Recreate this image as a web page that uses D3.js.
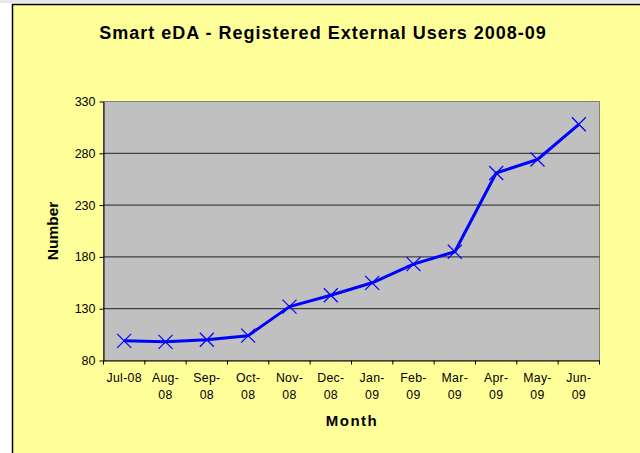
<!DOCTYPE html>
<html>
<head>
<meta charset="UTF-8">
<script src="https://d3js.org/d3.v7.min.js"></script>
<style>
  body { margin: 0; background: #fff; }
  svg text { font-family: "Liberation Sans", Arial, sans-serif; }
</style>
</head>
<body>
<svg id="chart" width="640" height="453"></svg>
<script>
const months = ["Jul-08", "Aug-08", "Sep-08", "Oct-08", "Nov-08", "Dec-08",
                "Jan-09", "Feb-09", "Mar-09", "Apr-09", "May-09", "Jun-09"];
const users = [99, 98, 100, 104, 132, 143, 155, 173, 185, 261, 274, 308];
const yTicks = [80, 130, 180, 230, 280, 330];

const svg = d3.select("#chart");

// chart area frame
svg.append("rect").attr("x", 0).attr("y", 0).attr("width", 640).attr("height", 3).attr("fill", "#e8e8e8");
svg.append("rect")
   .attr("x", 12.5).attr("y", 4.5).attr("width", 640).attr("height", 460)
   .attr("fill", "#ffff99").attr("stroke", "#000").attr("stroke-width", 1.5);

const pLeft = 103.5, pRight = 599.5, pTop = 101.5, pBottom = 360.5;

const x = d3.scaleBand().domain(months).range([pLeft, pRight]);
const y = d3.scaleLinear().domain([80, 330]).range([pBottom, pTop]);

// plot area
svg.append("rect")
   .attr("x", pLeft).attr("y", pTop).attr("width", pRight - pLeft).attr("height", pBottom - pTop)
   .attr("fill", "#c0c0c0").attr("stroke", "#808080").attr("stroke-width", 1);

// grid lines
svg.append("g").selectAll("line")
   .data(yTicks.slice(1, -1))
   .join("line")
   .attr("x1", pLeft).attr("x2", pRight)
   .attr("y1", d => y(d)).attr("y2", d => y(d))
   .attr("stroke", "#222").attr("stroke-width", 1);

// y axis
const yAxis = svg.append("g")
   .attr("transform", `translate(${pLeft},0)`)
   .call(d3.axisLeft(y).tickValues(yTicks).tickSize(4).tickSizeOuter(0));
yAxis.select(".domain").attr("stroke", "#000");
yAxis.selectAll("text").attr("font-size", 12.5).attr("fill", "#000").attr("dx", -1);

// x axis
const xAxis = svg.append("g")
   .attr("transform", `translate(0,${pBottom})`)
   .call(d3.axisBottom(x).tickSize(0).tickSizeOuter(0));
xAxis.select(".domain").attr("stroke", "#000");
xAxis.selectAll(".tick line").remove();
xAxis.selectAll("text").remove();
// category boundary ticks
svg.append("g").selectAll("line")
   .data(d3.range(months.length + 1))
   .join("line")
   .attr("x1", i => pLeft + i * x.step()).attr("x2", i => pLeft + i * x.step())
   .attr("y1", pBottom).attr("y2", pBottom + 4)
   .attr("stroke", "#000");

// x tick labels in two lines
const lbl = svg.append("g").selectAll("text")
   .data(months)
   .join("text")
   .attr("font-size", 12.3)
   .attr("letter-spacing", 0.3)
   .attr("text-anchor", "middle")
   .attr("fill", "#000");
lbl.each(function(d, i) {
  const t = d3.select(this);
  const cx = x(d) + x.bandwidth() / 2;
  const parts = d.split("-");
  if (i === 0) {
    t.append("tspan").attr("x", cx).attr("y", pBottom + 21).text(d);
  } else {
    t.append("tspan").attr("x", cx).attr("y", pBottom + 21).text(parts[0] + "-");
    t.append("tspan").attr("x", cx).attr("y", pBottom + 38).text(parts[1]);
  }
});

// line
const line = d3.line()
   .x((d, i) => x(months[i]) + x.bandwidth() / 2)
   .y(d => y(d));
svg.append("path")
   .datum(users)
   .attr("d", line)
   .attr("fill", "none")
   .attr("stroke", "#0000ff")
   .attr("stroke-width", 3)
   .attr("stroke-linejoin", "round");

// x markers
const m = 7;
svg.append("g").selectAll("path")
   .data(users)
   .join("path")
   .attr("d", (d, i) => {
     const cx = x(months[i]) + x.bandwidth() / 2, cy = y(d);
     return `M${cx - m},${cy - m}L${cx + m},${cy + m}M${cx - m},${cy + m}L${cx + m},${cy - m}`;
   })
   .attr("stroke", "#0000ff").attr("stroke-width", 1.2).attr("fill", "none");

// titles
svg.append("text")
   .attr("x", 323).attr("y", 39)
   .attr("text-anchor", "middle").attr("font-size", 18).attr("font-weight", "bold")
   .attr("letter-spacing", 1.0)
   .text("Smart eDA - Registered External Users 2008-09");

svg.append("text")
   .attr("transform", `translate(58,${(pTop + pBottom) / 2}) rotate(-90)`)
   .attr("text-anchor", "middle").attr("font-size", 15.5).attr("font-weight", "bold")
   .text("Number");

svg.append("text")
   .attr("x", 352).attr("y", 426)
   .attr("text-anchor", "middle").attr("font-size", 15).attr("font-weight", "bold")
   .attr("letter-spacing", 1.5)
   .text("Month");
</script>
</body>
</html>
